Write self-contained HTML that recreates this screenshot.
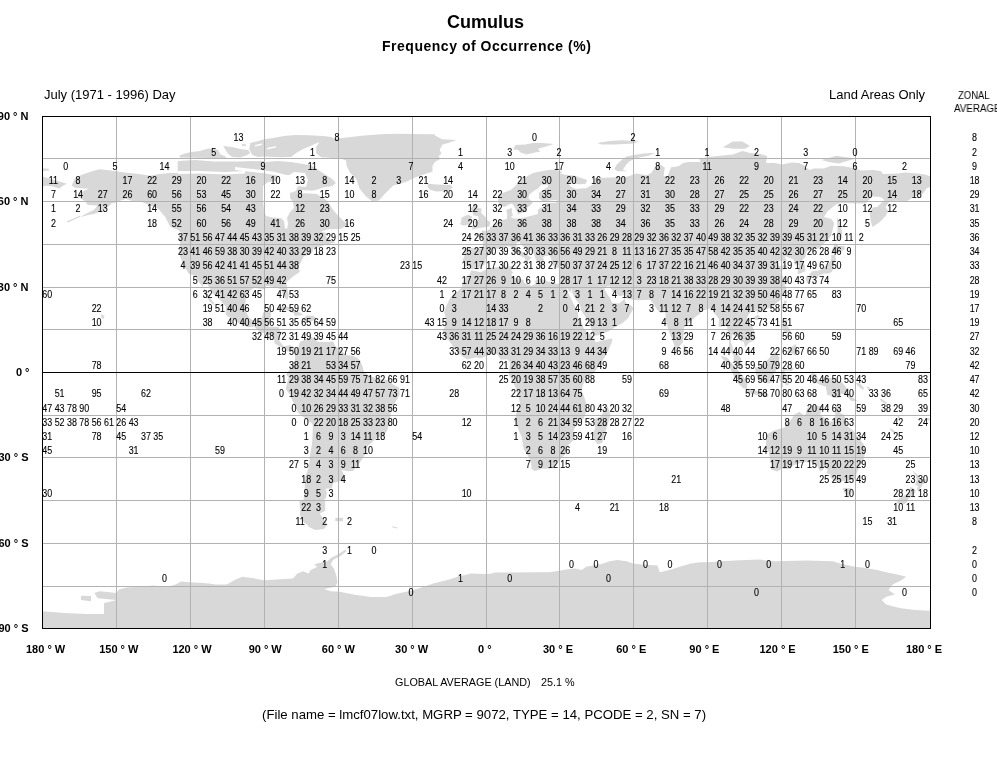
<!DOCTYPE html>
<html><head><meta charset="utf-8"><title>Cumulus - Frequency of Occurrence</title>
<style>
html,body{margin:0;padding:0;background:#fff;}
body{width:997px;height:760px;position:relative;overflow:hidden;font-family:"Liberation Sans",sans-serif;color:#000;}
.t{position:absolute;white-space:nowrap;line-height:1;will-change:transform;}
svg{position:absolute;left:0;top:0;will-change:transform;}
svg text{font-family:"Liberation Sans",sans-serif;}
</style></head><body>
<svg width="997" height="760" viewBox="0 0 997 760">
<g fill="#d8d8d8" stroke="none">
<path d="M71.6,185.4 L75.3,177.7 L83.9,174.0 L91.3,171.5 L99.2,169.2 L111.1,170.6 L120.9,172.0 L138.2,174.0 L150.5,175.7 L157.9,174.3 L170.3,172.9 L177.7,172.9 L177.7,160.9 L194.9,160.1 L214.7,161.5 L239.3,161.5 L264.0,160.9 L264.9,162.0 L278.1,161.1 L290.2,162.0 L302.2,163.8 L311.8,165.6 L319.0,170.5 L326.3,175.3 L332.3,178.9 L335.9,183.1 L332.3,186.1 L323.9,187.3 L316.6,189.7 L311.8,190.9 L326.9,200.5 L333.1,209.9 L338.0,215.6 L345.4,222.7 L348.6,224.1 L340.5,228.9 L328.1,229.2 L320.7,231.8 L326.9,232.9 L325.7,236.9 L335.5,242.6 L323.2,245.4 L313.3,248.3 L312.1,253.1 L303.5,256.8 L298.5,266.8 L299.8,271.9 L293.6,275.9 L286.2,282.4 L288.7,295.2 L287.4,300.3 L283.7,296.6 L281.3,289.5 L276.3,287.5 L266.5,285.8 L265.2,289.5 L254.1,287.8 L246.7,293.2 L245.5,300.9 L244.8,309.4 L249.2,318.0 L252.9,320.2 L261.5,319.1 L263.3,312.3 L271.4,310.8 L270.2,320.8 L268.2,326.5 L278.8,327.1 L280.5,332.2 L279.3,340.7 L283.7,346.4 L289.9,345.0 L294.8,347.5 L295.3,349.8 L292.4,350.7 L287.4,351.2 L283.7,348.7 L274.6,343.6 L273.9,337.9 L270.2,335.0 L260.3,332.2 L254.1,326.5 L248.0,327.3 L239.3,323.6 L225.8,315.1 L225.8,306.6 L219.6,299.5 L212.2,292.9 L207.3,283.8 L202.8,281.5 L203.1,286.7 L208.5,295.2 L213.9,303.2 L215.9,306.6 L209.7,301.5 L204.8,293.8 L203.6,288.1 L198.6,281.5 L196.9,279.0 L193.7,275.3 L188.5,273.6 L183.8,265.3 L180.1,256.8 L179.4,249.7 L180.1,240.6 L178.4,234.3 L182.6,234.0 L177.7,229.8 L170.3,226.9 L165.3,217.0 L157.9,208.4 L150.5,205.6 L141.9,201.9 L133.3,201.3 L125.9,199.1 L120.9,200.5 L116.0,202.5 L111.6,203.6 L106.1,208.4 L101.2,211.3 L93.8,214.1 L86.4,215.6 L80.2,217.0 L86.4,213.6 L93.8,209.9 L97.5,205.6 L87.6,205.0 L85.2,201.3 L77.8,197.1 L80.2,192.8 L88.9,188.5 L82.7,188.5 L75.3,187.7Z"/>
<path d="M179.5,155.6 L185.0,153.6 L191.1,152.0 L200.1,151.0 L207.1,148.8 L214.1,148.5 L218.1,150.0 L220.2,154.1 L226.2,157.1 L225.2,158.3 L180.0,157.6Z"/>
<path d="M223.2,146.0 L232.2,147.0 L240.2,149.0 L248.2,150.0 L250.2,153.1 L246.2,155.6 L240.2,157.6 L232.2,157.1 L228.2,154.1 L226.2,151.0Z"/>
<path d="M242.0,144.0 L246.0,144.5 L246.0,146.0 L242.0,146.0Z"/>
<path d="M250.2,143.0 L258.3,141.0 L264.0,139.3 L273.0,137.9 L283.9,136.1 L295.6,135.0 L309.2,135.2 L322.7,136.1 L331.7,137.0 L334.4,138.8 L327.2,140.2 L318.2,142.4 L309.2,146.5 L303.7,148.8 L296.5,152.8 L291.1,156.9 L282.1,157.3 L273.0,156.9 L264.0,156.4 L258.3,157.1 L252.2,155.1 L249.2,149.0Z"/>
<path d="M330.7,138.8 L338.7,138.5 L348.3,137.2 L364.4,135.6 L380.4,134.3 L396.5,133.7 L412.0,134.0 L434.9,134.2 L434.9,135.6 L442.1,139.3 L456.6,139.9 L450.5,142.3 L442.1,144.7 L439.7,150.1 L441.5,153.7 L438.5,156.1 L440.3,159.1 L434.9,162.1 L432.5,165.7 L432.5,171.7 L424.1,174.2 L414.4,177.8 L407.2,181.4 L400.0,183.8 L393.3,185.4 L385.2,193.4 L378.8,200.6 L372.4,201.4 L366.0,196.6 L359.5,188.6 L356.3,179.0 L349.9,172.5 L346.7,166.1 L345.9,160.5 L341.9,158.9 L332.3,158.1 L321.0,157.3 L316.2,153.3 L316.2,146.9 L319.4,142.0 L327.4,139.6Z"/>
<path d="M427.7,183.8 L436.1,184.4 L450.5,185.0 L452.9,187.4 L448.1,191.0 L436.1,191.6 L430.1,189.8 L427.7,186.8Z"/>
<path d="M42.0,168.3 L48.5,168.8 L49.0,170.5 L42.0,171.0Z"/>
<path d="M80.2,217.0 L75.3,219.0 L67.9,222.4 L66.7,221.5 L75.3,217.8 L80.2,215.6Z"/>
<path d="M295.3,349.5 L298.5,346.4 L299.8,342.1 L308.4,337.9 L310.9,336.7 L313.3,337.9 L318.3,342.1 L328.1,342.1 L333.1,341.6 L335.5,346.4 L340.5,349.2 L345.4,354.9 L352.8,355.8 L357.7,358.3 L360.2,360.6 L362.7,366.9 L363.9,372.0 L367.6,374.8 L377.5,379.1 L387.3,380.0 L393.5,384.8 L399.2,387.6 L399.7,394.8 L394.7,403.3 L391.0,409.0 L389.8,421.8 L387.3,430.3 L383.6,436.0 L377.5,437.4 L367.6,446.0 L366.1,453.1 L361.4,460.2 L356.5,467.3 L352.8,471.0 L347.9,471.3 L341.7,470.1 L344.2,475.8 L344.2,480.1 L333.1,482.9 L331.8,488.6 L325.7,488.6 L326.9,492.9 L325.7,498.6 L319.5,502.8 L323.2,507.1 L318.3,514.2 L315.8,518.5 L317.0,521.3 L324.4,528.4 L319.5,529.3 L313.3,529.0 L308.4,525.6 L302.2,521.3 L299.8,514.2 L301.0,505.7 L303.5,500.0 L304.7,491.5 L304.7,482.9 L305.2,477.2 L309.1,465.9 L309.6,457.3 L312.1,443.1 L312.8,428.9 L312.6,424.1 L309.6,421.8 L298.5,413.2 L294.8,406.1 L289.9,394.8 L285.7,389.1 L287.4,382.0 L288.7,377.7 L286.2,374.8 L288.7,370.6 L291.1,367.7 L292.4,364.9 L294.8,360.6 L295.1,353.5 L293.8,351.2Z"/>
<path d="M276.3,309.7 L278.8,307.1 L286.2,306.0 L294.8,309.4 L303.0,314.5 L299.8,315.4 L294.8,315.7 L293.6,313.1 L286.2,310.0 L278.8,310.0Z"/>
<path d="M302.2,319.7 L306.4,315.4 L313.3,315.7 L317.3,319.1 L309.6,321.9 L302.7,320.8Z"/>
<path d="M472.2,269.6 L470.2,267.3 L467.5,266.2 L464.0,266.8 L464.3,261.9 L462.6,261.1 L464.5,255.4 L464.0,250.3 L463.1,249.7 L466.3,247.7 L473.7,248.3 L481.6,248.6 L483.0,244.9 L483.0,240.6 L480.6,237.7 L474.9,235.8 L474.4,234.0 L478.6,233.2 L482.3,233.5 L481.6,230.6 L486.5,231.2 L489.7,229.2 L490.2,226.9 L494.6,225.5 L497.1,222.7 L498.3,220.4 L503.3,219.8 L507.0,219.0 L507.2,214.1 L506.2,209.9 L511.9,207.9 L511.9,212.1 L512.9,215.6 L510.7,217.0 L513.1,218.4 L520.5,218.4 L530.4,216.1 L537.8,214.1 L537.8,209.9 L541.5,207.6 L545.2,208.4 L545.2,203.3 L555.1,202.8 L560.0,201.3 L555.1,199.9 L542.7,201.3 L539.0,198.5 L539.0,192.8 L547.7,187.1 L548.4,184.8 L541.5,184.8 L537.8,188.5 L532.9,191.4 L529.2,194.8 L528.4,198.5 L531.6,201.3 L532.9,202.8 L526.7,208.4 L525.5,212.1 L521.8,212.7 L518.1,214.4 L516.8,211.3 L513.6,205.6 L511.9,203.6 L509.4,204.2 L504.5,207.0 L499.6,205.6 L498.3,201.3 L498.3,195.6 L503.3,192.8 L510.7,190.0 L515.6,185.7 L520.5,180.0 L525.5,177.2 L532.9,172.9 L542.7,170.9 L550.1,169.8 L556.3,170.0 L562.5,172.0 L560.0,173.7 L567.4,174.9 L574.8,175.7 L587.1,180.0 L585.9,183.7 L579.7,184.3 L572.3,183.4 L567.4,182.3 L571.1,187.1 L576.0,189.1 L579.7,188.5 L585.9,188.2 L594.5,183.7 L594.5,178.0 L599.5,178.0 L616.7,177.2 L621.7,177.2 L629.1,176.3 L634.0,174.3 L636.5,173.5 L646.3,175.2 L651.3,172.9 L656.2,164.9 L661.1,164.9 L664.8,167.8 L663.6,175.7 L667.3,177.2 L671.0,167.2 L678.4,166.3 L683.3,162.9 L688.3,162.1 L700.6,162.1 L699.4,158.7 L708.0,157.0 L720.3,155.8 L732.7,154.4 L742.5,151.0 L749.9,153.0 L759.8,153.8 L767.2,156.1 L766.0,162.9 L774.6,162.9 L782.0,164.4 L791.9,162.4 L799.3,162.9 L804.2,165.5 L809.1,170.0 L814.1,168.6 L823.9,168.6 L831.3,165.8 L843.7,166.3 L856.0,168.6 L860.9,170.6 L873.3,170.0 L880.7,170.9 L883.1,174.0 L897.9,173.5 L905.3,172.6 L917.7,173.5 L925.1,174.6 L930.0,176.3 L930.0,187.1 L926.3,188.5 L922.6,194.2 L915.2,196.2 L906.6,201.3 L895.5,200.8 L889.3,201.9 L885.6,207.0 L888.1,211.3 L885.6,216.1 L880.7,221.2 L877.0,224.1 L872.5,226.9 L870.8,221.2 L869.6,212.7 L872.8,207.6 L877.0,207.0 L884.4,199.9 L880.7,197.1 L872.0,196.5 L865.9,203.3 L858.5,203.6 L851.1,203.3 L841.2,203.0 L836.3,204.2 L827.6,211.3 L823.9,217.0 L831.3,219.0 L834.3,223.2 L832.6,229.8 L831.3,235.5 L826.4,241.2 L819.0,248.3 L811.6,249.7 L806.7,251.1 L805.4,256.8 L801.7,261.1 L804.9,265.3 L805.4,271.0 L800.5,273.6 L797.5,273.9 L798.0,269.6 L798.8,265.3 L794.3,263.9 L793.6,259.4 L786.9,256.8 L784.5,255.9 L786.9,261.1 L784.5,261.6 L777.1,260.5 L776.3,262.8 L779.5,266.2 L783.7,264.5 L788.2,266.2 L783.2,269.6 L780.3,272.4 L783.2,277.0 L786.4,281.5 L784.5,285.2 L786.9,287.2 L785.7,290.9 L782.0,296.3 L780.8,300.0 L777.1,302.3 L773.4,306.6 L767.2,308.6 L762.3,310.3 L758.6,311.4 L757.3,314.3 L756.6,310.8 L752.4,310.6 L749.2,313.4 L746.7,318.5 L748.7,322.2 L752.4,326.5 L754.9,332.7 L755.4,338.4 L752.4,341.3 L749.2,342.4 L745.0,347.5 L744.5,345.0 L743.8,342.1 L740.1,340.7 L737.6,337.3 L734.6,335.9 L732.7,333.9 L730.7,342.1 L732.2,345.8 L733.4,350.7 L735.9,352.4 L738.1,354.4 L741.1,358.3 L741.3,364.9 L743.0,368.0 L741.3,368.3 L737.6,365.7 L735.1,363.5 L733.4,359.8 L733.7,355.8 L728.5,349.2 L729.0,343.6 L729.0,336.4 L727.2,327.9 L726.7,325.1 L724.0,325.1 L721.1,327.1 L718.4,326.5 L719.1,319.4 L716.6,315.7 L713.7,313.1 L712.9,309.4 L709.2,308.6 L705.5,310.0 L700.6,310.6 L700.1,313.7 L695.7,316.8 L688.3,323.6 L684.1,327.3 L683.8,333.6 L682.8,342.7 L678.9,346.7 L677.2,349.0 L674.7,346.7 L672.2,339.3 L670.3,335.0 L667.3,326.5 L665.6,318.0 L665.3,312.3 L659.9,312.8 L656.2,308.6 L654.5,304.9 L651.8,301.7 L650.0,299.8 L643.9,300.0 L637.7,300.3 L631.0,299.5 L627.3,298.6 L625.4,294.9 L619.2,296.3 L613.0,292.6 L609.6,286.1 L605.6,286.7 L604.4,288.1 L605.4,290.9 L608.1,295.2 L609.8,297.5 L611.8,302.3 L613.3,303.2 L615.5,303.2 L619.2,303.4 L624.1,299.2 L625.1,296.9 L625.1,301.2 L627.1,304.3 L630.8,305.2 L633.5,308.6 L630.3,314.0 L628.3,318.0 L624.9,321.1 L621.7,323.6 L614.8,327.6 L606.9,332.2 L597.0,335.6 L593.3,335.9 L591.8,330.2 L590.1,325.1 L585.4,316.5 L581.2,310.8 L579.7,304.6 L574.8,298.0 L572.1,292.4 L571.3,288.1 L570.4,292.9 L566.4,287.0 L560.0,284.4 L560.0,267.9 L555.1,267.6 L553.3,265.3 L551.4,259.9 L550.6,257.9 L550.1,255.4 L545.2,255.9 L542.7,257.4 L544.0,259.6 L542.2,265.3 L539.5,267.3 L538.3,263.1 L535.8,259.4 L533.9,254.0 L532.9,252.0 L525.5,248.3 L520.5,244.0 L519.5,242.0 L516.3,243.1 L516.8,246.8 L520.5,251.1 L525.5,254.0 L531.6,257.7 L527.9,261.1 L526.7,263.9 L524.5,263.9 L525.5,259.6 L524.2,257.7 L520.5,255.9 L516.8,254.0 L513.1,251.1 L510.7,246.8 L507.0,246.0 L503.3,248.0 L498.3,248.6 L493.9,249.1 L493.4,252.5 L488.0,255.4 L485.3,259.6 L486.0,261.9 L484.0,265.0 L480.6,267.6 L474.9,267.6Z"/>
<path d="M42.0,176.3 L51.9,179.4 L59.3,181.4 L66.7,183.7 L63.0,185.7 L59.3,188.5 L51.9,186.3 L45.7,185.7 L42.0,187.1Z"/>
<path d="M471.4,270.2 L481.1,272.2 L488.5,268.2 L494.6,267.3 L505.7,267.0 L510.7,265.9 L513.1,266.8 L511.2,271.0 L513.4,271.9 L511.2,274.7 L514.4,277.8 L519.3,278.7 L523.7,280.1 L524.2,283.0 L531.6,285.8 L535.3,284.1 L535.3,280.4 L539.0,278.4 L542.7,279.3 L547.7,281.5 L557.5,284.1 L562.5,282.1 L565.7,283.0 L566.4,287.0 L568.6,293.8 L573.6,304.0 L577.8,312.3 L578.3,318.8 L581.0,320.8 L583.9,328.8 L587.6,332.5 L592.8,336.7 L595.8,342.4 L601.9,340.4 L612.3,338.4 L611.8,342.4 L608.8,349.2 L604.4,357.8 L599.5,365.7 L593.3,373.4 L588.4,377.1 L585.2,380.0 L582.7,385.4 L581.7,390.5 L583.4,394.8 L585.9,401.9 L585.9,413.2 L583.4,418.9 L577.3,422.6 L573.1,431.7 L573.6,440.3 L567.2,445.7 L566.2,453.4 L562.5,457.0 L555.1,465.6 L549.4,468.7 L541.5,468.7 L535.3,471.0 L531.6,469.3 L531.1,463.0 L528.7,457.3 L523.5,448.8 L521.8,436.9 L519.1,431.2 L515.1,420.4 L516.8,411.3 L520.0,403.3 L518.6,397.0 L516.3,389.1 L513.1,382.5 L508.7,374.8 L509.4,369.2 L510.2,362.0 L507.0,359.2 L500.8,359.8 L497.1,354.1 L490.9,354.1 L483.5,357.2 L479.8,358.3 L476.1,357.2 L467.5,359.5 L463.3,356.9 L457.6,352.4 L453.4,347.8 L452.2,345.0 L449.0,340.7 L444.6,336.7 L442.8,330.2 L445.3,326.2 L446.0,318.0 L444.1,312.3 L446.5,305.2 L450.2,298.0 L453.4,293.5 L457.6,291.5 L461.8,287.5 L462.3,283.8 L465.0,277.6 L469.2,275.3Z"/>
<path d="M471.9,229.8 L478.6,228.1 L489.5,226.4 L490.2,222.1 L486.7,219.8 L485.5,217.0 L482.3,214.1 L481.1,212.7 L481.6,208.4 L477.4,207.9 L478.6,205.3 L473.7,205.3 L470.7,208.4 L472.2,211.9 L473.7,215.6 L478.1,216.1 L478.6,219.8 L474.4,221.8 L476.1,225.2 L473.2,224.9Z"/>
<path d="M471.2,223.5 L471.2,218.4 L472.2,216.7 L468.0,214.7 L465.0,216.1 L461.3,217.8 L461.3,221.2 L460.1,224.1 L462.6,225.5 L466.3,225.2Z"/>
<path d="M682.8,354.9 L683.8,344.1 L687.8,350.7 L686.8,354.4 L684.8,355.2Z"/>
<path d="M808.9,274.4 L812.8,271.0 L819.0,270.5 L821.5,269.0 L823.9,266.5 L827.6,265.3 L831.3,259.6 L831.3,255.1 L835.0,254.8 L836.0,259.6 L833.8,263.9 L833.1,269.6 L831.8,271.9 L828.1,273.6 L823.9,273.6 L819.5,275.6 L812.8,275.9 L809.1,275.6Z"/>
<path d="M831.3,254.0 L832.3,248.8 L835.3,242.9 L838.7,246.0 L844.4,246.0 L844.9,249.1 L839.5,252.5 L833.8,253.1Z"/>
<path d="M805.9,276.4 L811.1,275.9 L810.4,282.4 L807.2,283.3 L805.7,279.6Z"/>
<path d="M812.8,277.6 L818.3,274.7 L818.0,277.3 L814.8,278.7Z"/>
<path d="M836.3,241.2 L837.5,231.2 L836.8,217.8 L839.5,221.2 L842.4,232.6 L840.0,240.3Z"/>
<path d="M782.5,308.0 L784.5,300.3 L786.9,300.9 L784.0,309.7Z"/>
<path d="M753.9,317.4 L757.3,314.8 L759.8,316.2 L757.8,320.2 L754.9,319.7Z"/>
<path d="M782.0,326.5 L783.2,319.4 L787.4,319.4 L786.9,325.1 L791.9,333.6 L785.7,332.7 L783.5,331.3Z"/>
<path d="M786.9,352.1 L790.6,347.8 L795.6,344.1 L798.0,352.1 L795.6,355.5 L791.9,353.5Z"/>
<path d="M754.9,367.7 L756.1,374.8 L758.1,380.5 L768.4,383.4 L773.4,382.0 L772.1,376.3 L776.1,370.6 L777.1,369.2 L779.5,357.8 L775.1,352.1 L772.1,354.4 L767.9,359.5 L761.0,365.5 L757.3,367.2Z"/>
<path d="M721.1,356.1 L726.5,357.2 L733.7,364.9 L741.3,374.3 L743.8,377.4 L747.5,380.5 L747.0,388.5 L743.8,388.8 L738.3,383.4 L735.1,378.5 L732.7,373.4 L729.5,367.2 L726.0,362.0 L721.6,357.8Z"/>
<path d="M745.5,391.3 L747.7,388.8 L753.1,389.6 L758.3,391.6 L763.7,391.6 L768.4,393.9 L768.2,396.7 L759.8,395.3 L752.4,394.2 L748.5,393.0Z"/>
<path d="M780.5,387.6 L780.8,382.0 L779.0,379.7 L781.5,371.4 L784.0,368.3 L788.2,369.2 L793.1,368.3 L794.8,367.7 L791.9,370.9 L784.5,370.6 L785.7,374.8 L790.1,374.6 L786.4,377.1 L788.9,384.8 L785.7,385.4 L784.5,380.0 L782.7,380.2 L783.0,387.6Z"/>
<path d="M809.1,375.7 L812.8,373.1 L816.5,374.6 L819.0,381.4 L826.4,376.6 L833.8,379.4 L842.4,382.8 L846.1,387.6 L849.8,389.4 L848.6,391.9 L851.8,396.5 L857.2,401.0 L851.1,401.0 L846.1,395.0 L841.2,393.6 L839.5,397.6 L833.8,397.9 L828.9,394.8 L827.6,395.9 L825.7,386.8 L819.5,384.5 L816.5,383.1 L813.6,383.7 L811.6,380.2 L815.3,378.5 L811.6,378.0Z"/>
<path d="M766.0,434.6 L767.7,434.0 L773.9,430.6 L784.5,427.5 L788.2,420.4 L790.6,420.4 L794.3,414.7 L799.3,411.8 L803.0,414.7 L805.7,414.4 L806.7,409.0 L809.1,406.7 L812.8,404.7 L815.3,405.6 L820.2,406.1 L823.4,406.7 L821.0,410.4 L820.2,414.7 L825.2,418.4 L829.6,421.5 L833.3,421.5 L835.3,414.7 L835.0,408.1 L837.5,402.4 L840.0,408.4 L840.0,413.2 L844.4,414.7 L846.1,421.8 L846.9,426.0 L853.0,430.3 L857.2,436.0 L863.9,444.5 L864.9,453.1 L863.4,461.6 L859.7,465.9 L856.5,473.5 L856.0,478.7 L849.8,480.1 L846.9,483.2 L843.2,480.7 L840.0,482.4 L833.8,480.4 L830.6,478.1 L830.1,474.4 L826.4,473.3 L827.6,470.1 L825.2,467.3 L821.5,471.3 L819.5,470.4 L817.0,464.7 L810.4,461.6 L804.2,462.2 L796.8,463.9 L791.9,465.9 L790.9,468.7 L782.0,468.7 L777.1,471.6 L771.4,469.6 L770.4,467.6 L771.4,464.7 L769.7,457.3 L768.7,451.6 L766.0,447.4 L766.0,441.7 L766.2,436.6Z"/>
<path d="M842.7,487.8 L851.8,488.3 L851.8,492.0 L848.6,496.0 L846.1,495.7 L844.2,492.0Z"/>
<path d="M912.0,469.8 L916.4,473.8 L919.6,476.7 L920.1,479.0 L926.3,479.2 L924.8,483.5 L922.6,484.4 L922.1,486.3 L918.4,490.3 L916.7,489.5 L918.2,486.3 L915.2,484.4 L916.7,480.1 L915.7,475.8Z"/>
<path d="M912.0,487.2 L915.9,490.3 L914.0,494.3 L912.2,496.6 L908.3,498.6 L906.8,502.6 L902.9,504.8 L896.7,503.1 L896.7,500.9 L901.1,497.2 L906.6,494.3 L909.0,490.6 L910.3,487.2Z"/>
<path d="M607.6,406.1 L610.6,415.5 L608.8,420.4 L605.9,430.3 L602.2,442.8 L597.5,444.5 L593.8,439.1 L592.8,434.0 L595.3,427.5 L594.5,420.9 L595.8,418.1 L600.2,416.9 L604.4,410.4Z"/>
<path d="M513.1,149.3 L515.6,145.0 L525.5,144.4 L532.9,143.0 L542.7,143.0 L553.8,143.9 L545.2,146.7 L537.8,148.7 L540.3,151.6 L532.9,153.0 L526.7,154.4 L520.5,152.4 L518.1,150.1Z"/>
<path d="M597.0,143.0 L609.3,141.0 L621.7,140.2 L638.9,141.6 L634.0,143.6 L614.3,144.4 L601.9,144.4Z"/>
<path d="M614.3,169.2 L616.7,164.4 L621.7,160.1 L626.6,156.4 L634.0,155.0 L643.9,153.5 L655.0,153.0 L648.8,155.8 L636.5,158.1 L629.1,161.5 L625.4,165.8 L622.9,170.0 L627.8,171.2 L618.0,171.2Z"/>
<path d="M722.8,147.3 L730.2,143.0 L732.7,141.6 L742.5,141.6 L749.9,145.9 L745.0,148.7 L732.7,148.7Z"/>
<path d="M821.5,160.1 L831.3,157.2 L836.3,155.8 L846.1,157.2 L856.0,158.4 L838.7,163.5 L828.9,162.1Z"/>
<path d="M42.0,611.3 L64.3,613.0 L86.5,614.1 L104.0,614.0 L104.0,603.0 L108.8,601.9 L116.6,600.1 L97.7,598.3 L94.3,593.0 L99.9,591.2 L116.6,593.0 L118.8,589.4 L126.6,587.4 L140.0,586.8 L153.3,585.6 L166.7,587.2 L175.6,584.5 L181.2,581.4 L189.0,582.3 L200.1,582.8 L209.0,583.4 L215.7,584.5 L226.8,584.5 L235.7,579.6 L242.4,576.7 L253.5,578.3 L264.0,580.2 L292.9,578.4 L297.4,573.5 L303.0,571.3 L308.5,573.5 L310.8,570.1 L317.4,566.8 L314.1,564.6 L319.7,562.8 L327.5,561.2 L330.8,557.9 L339.7,553.4 L345.3,549.4 L346.4,551.2 L340.8,555.7 L333.0,560.1 L330.8,564.6 L334.1,569.0 L336.4,575.7 L337.5,582.4 L335.3,586.8 L324.1,589.1 L330.8,591.3 L339.6,591.7 L353.1,594.6 L370.9,596.9 L386.5,596.9 L397.6,593.5 L408.7,591.3 L419.9,588.0 L433.2,583.5 L446.6,580.2 L457.7,576.8 L471.1,573.5 L486.0,574.0 L490.5,573.8 L494.9,572.5 L537.2,572.3 L548.3,572.3 L559.5,570.7 L566.2,569.4 L575.1,568.5 L581.7,570.1 L586.2,566.7 L601.8,564.0 L609.6,561.2 L617.4,560.0 L626.3,561.2 L633.0,563.4 L641.9,564.5 L657.5,565.6 L659.7,572.3 L664.1,571.2 L673.0,568.9 L679.7,566.7 L690.9,563.4 L699.8,562.3 L708.0,562.3 L721.4,561.2 L734.7,560.5 L759.2,559.6 L774.8,561.2 L806.0,560.5 L832.7,561.2 L841.6,564.0 L855.0,566.7 L863.9,567.8 L877.2,570.1 L886.1,572.3 L897.3,574.5 L906.2,576.7 L901.7,580.1 L892.8,584.5 L888.4,590.1 L895.0,594.6 L886.1,596.8 L881.7,600.1 L886.1,604.6 L899.5,607.9 L915.1,610.1 L930.0,610.8 L930.0,628.0 L42.0,628.0Z"/>
<path d="M299.6,500.0 L325.2,500.0 L325.2,511.1 L319.7,513.4 L327.5,524.5 L324.1,528.9 L315.2,530.1 L308.5,526.7 L305.2,520.0 L301.9,513.4 L299.6,504.5Z"/>
<path d="M335.3,517.8 L343.0,517.8 L343.0,521.2 L335.3,521.2Z"/>
<path d="M392.0,526.3 L397.6,527.5 L397.6,528.5 L392.0,527.3Z"/>
<path d="M81.0,595.7 L91.0,596.0 L91.0,601.2 L81.0,600.0Z"/>
<path d="M101.0,314.0 L104.6,316.0 L103.5,319.0 L101.5,318.0Z"/>
<path d="M855.0,382.5 L860.0,383.5 L864.0,388.0 L863.0,390.0 L858.0,386.0Z"/>
<path d="M866.5,386.5 L869.0,387.0 L870.5,390.0 L868.0,389.5Z"/>
<path d="M879.5,398.5 L882.0,399.0 L887.0,403.0 L886.0,404.5 L881.0,401.0Z"/>
<path d="M897.0,415.0 L899.0,415.5 L900.0,418.5 L898.0,418.0Z"/>
<path d="M889.5,428.5 L892.0,429.0 L896.0,432.5 L895.0,434.0 L891.0,431.0Z"/>
<path d="M926.5,418.0 L929.5,418.0 L929.5,420.5 L927.0,420.5Z"/>
</g>
<g fill="#fff" stroke="none">
<path d="M255.0,145.0 L262.0,143.5 L262.0,145.0 L255.0,146.5Z"/>
<path d="M267.0,148.0 L276.0,146.0 L276.0,147.5 L267.0,149.5Z"/>
<path d="M263.0,186.0 L263.0,200.0 L264.0,210.0 L266.0,216.0 L273.0,217.5 L281.0,218.0 L284.0,221.0 L285.0,228.0 L287.0,229.0 L288.0,224.0 L287.0,218.0 L290.0,212.0 L294.0,208.0 L293.0,202.0 L290.0,198.0 L290.0,193.0 L296.0,191.0 L298.0,186.0 L296.0,181.0 L294.0,175.0 L280.0,175.0 L276.0,181.0 L268.0,182.0Z"/>
<path d="M288.0,176.0 L294.0,172.0 L305.0,173.0 L308.0,180.0 L306.0,187.0 L296.0,186.0 L289.0,184.0Z"/>
<path d="M178.0,171.0 L200.0,171.0 L225.0,172.0 L245.0,171.0 L245.0,173.5 L225.0,174.5 L200.0,173.5 L178.0,174.0Z"/>
<path d="M235.0,167.0 L248.0,168.5 L262.0,170.0 L275.0,172.0 L290.0,176.0 L290.0,178.5 L275.0,175.0 L262.0,173.0 L248.0,171.5 L235.0,170.0Z"/>
<path d="M300.0,190.0 L318.0,191.0 L330.0,193.0 L330.0,195.0 L318.0,194.0 L300.0,193.0Z"/>
</g>
<path d="M116.5,116V628 M190.5,116V628 M264.5,116V628 M338.5,116V628 M412.5,116V628 M486.5,116V628 M559.5,116V628 M633.5,116V628 M707.5,116V628 M781.5,116V628 M855.5,116V628 M42,158.5H930 M42,201.5H930 M42,244.5H930 M42,287.5H930 M42,329.5H930 M42,415.5H930 M42,457.5H930 M42,500.5H930 M42,543.5H930 M42,586.5H930" stroke="#b2b2b2" stroke-width="1" fill="none" shape-rendering="crispEdges"/>
<path d="M42,372.5H930" stroke="#000" stroke-width="1" shape-rendering="crispEdges"/>
<rect x="42.5" y="116.5" width="888" height="512" fill="none" stroke="#000" stroke-width="1" shape-rendering="crispEdges"/>
<g font-size="10.5" text-anchor="middle" fill="#000" stroke="#000" stroke-width="0.12" transform="scale(0.85,1)">
<text x="280.51" y="141.3">13</text>
<text x="396.59" y="141.3">8</text>
<text x="628.75" y="141.3">0</text>
<text x="744.82" y="141.3">2</text>
<text x="251.49" y="155.6">5</text>
<text x="367.57" y="155.6">1</text>
<text x="541.69" y="155.6">1</text>
<text x="599.73" y="155.6">3</text>
<text x="657.76" y="155.6">2</text>
<text x="773.84" y="155.6">1</text>
<text x="831.88" y="155.6">1</text>
<text x="889.92" y="155.6">2</text>
<text x="947.96" y="155.6">3</text>
<text x="1006.00" y="155.6">0</text>
<text x="77.37" y="169.8">0</text>
<text x="135.41" y="169.8">5</text>
<text x="193.45" y="169.8">14</text>
<text x="309.53" y="169.8">9</text>
<text x="367.57" y="169.8">11</text>
<text x="483.65" y="169.8">7</text>
<text x="541.69" y="169.8">4</text>
<text x="599.73" y="169.8">10</text>
<text x="657.76" y="169.8">17</text>
<text x="715.80" y="169.8">4</text>
<text x="773.84" y="169.8">8</text>
<text x="831.88" y="169.8">11</text>
<text x="889.92" y="169.8">9</text>
<text x="947.96" y="169.8">7</text>
<text x="1006.00" y="169.8">6</text>
<text x="1064.04" y="169.8">2</text>
<text x="62.86" y="184.0">11</text>
<text x="91.88" y="184.0">8</text>
<text x="149.92" y="184.0">17</text>
<text x="178.94" y="184.0">22</text>
<text x="207.96" y="184.0">29</text>
<text x="236.98" y="184.0">20</text>
<text x="266.00" y="184.0">22</text>
<text x="295.02" y="184.0">16</text>
<text x="324.04" y="184.0">10</text>
<text x="353.06" y="184.0">13</text>
<text x="382.08" y="184.0">8</text>
<text x="411.10" y="184.0">14</text>
<text x="440.12" y="184.0">2</text>
<text x="469.14" y="184.0">3</text>
<text x="498.16" y="184.0">21</text>
<text x="527.18" y="184.0">14</text>
<text x="614.24" y="184.0">21</text>
<text x="643.25" y="184.0">30</text>
<text x="672.27" y="184.0">20</text>
<text x="701.29" y="184.0">16</text>
<text x="730.31" y="184.0">20</text>
<text x="759.33" y="184.0">21</text>
<text x="788.35" y="184.0">22</text>
<text x="817.37" y="184.0">23</text>
<text x="846.39" y="184.0">26</text>
<text x="875.41" y="184.0">22</text>
<text x="904.43" y="184.0">20</text>
<text x="933.45" y="184.0">21</text>
<text x="962.47" y="184.0">23</text>
<text x="991.49" y="184.0">14</text>
<text x="1020.51" y="184.0">20</text>
<text x="1049.53" y="184.0">15</text>
<text x="1078.55" y="184.0">13</text>
<text x="62.86" y="198.2">7</text>
<text x="91.88" y="198.2">14</text>
<text x="120.90" y="198.2">27</text>
<text x="149.92" y="198.2">26</text>
<text x="178.94" y="198.2">60</text>
<text x="207.96" y="198.2">56</text>
<text x="236.98" y="198.2">53</text>
<text x="266.00" y="198.2">45</text>
<text x="295.02" y="198.2">30</text>
<text x="324.04" y="198.2">22</text>
<text x="353.06" y="198.2">8</text>
<text x="382.08" y="198.2">15</text>
<text x="411.10" y="198.2">10</text>
<text x="440.12" y="198.2">8</text>
<text x="498.16" y="198.2">16</text>
<text x="527.18" y="198.2">20</text>
<text x="556.20" y="198.2">14</text>
<text x="585.22" y="198.2">22</text>
<text x="614.24" y="198.2">30</text>
<text x="643.25" y="198.2">35</text>
<text x="672.27" y="198.2">30</text>
<text x="701.29" y="198.2">34</text>
<text x="730.31" y="198.2">27</text>
<text x="759.33" y="198.2">31</text>
<text x="788.35" y="198.2">30</text>
<text x="817.37" y="198.2">28</text>
<text x="846.39" y="198.2">27</text>
<text x="875.41" y="198.2">25</text>
<text x="904.43" y="198.2">25</text>
<text x="933.45" y="198.2">26</text>
<text x="962.47" y="198.2">27</text>
<text x="991.49" y="198.2">25</text>
<text x="1020.51" y="198.2">20</text>
<text x="1049.53" y="198.2">14</text>
<text x="1078.55" y="198.2">18</text>
<text x="62.86" y="212.4">1</text>
<text x="91.88" y="212.4">2</text>
<text x="120.90" y="212.4">13</text>
<text x="178.94" y="212.4">14</text>
<text x="207.96" y="212.4">55</text>
<text x="236.98" y="212.4">56</text>
<text x="266.00" y="212.4">54</text>
<text x="295.02" y="212.4">43</text>
<text x="353.06" y="212.4">12</text>
<text x="382.08" y="212.4">23</text>
<text x="556.20" y="212.4">12</text>
<text x="585.22" y="212.4">32</text>
<text x="614.24" y="212.4">33</text>
<text x="643.25" y="212.4">31</text>
<text x="672.27" y="212.4">34</text>
<text x="701.29" y="212.4">33</text>
<text x="730.31" y="212.4">29</text>
<text x="759.33" y="212.4">32</text>
<text x="788.35" y="212.4">35</text>
<text x="817.37" y="212.4">33</text>
<text x="846.39" y="212.4">29</text>
<text x="875.41" y="212.4">22</text>
<text x="904.43" y="212.4">23</text>
<text x="933.45" y="212.4">24</text>
<text x="962.47" y="212.4">22</text>
<text x="991.49" y="212.4">10</text>
<text x="1020.51" y="212.4">12</text>
<text x="1049.53" y="212.4">12</text>
<text x="62.86" y="226.7">2</text>
<text x="178.94" y="226.7">18</text>
<text x="207.96" y="226.7">52</text>
<text x="236.98" y="226.7">60</text>
<text x="266.00" y="226.7">56</text>
<text x="295.02" y="226.7">49</text>
<text x="324.04" y="226.7">41</text>
<text x="353.06" y="226.7">26</text>
<text x="382.08" y="226.7">30</text>
<text x="411.10" y="226.7">16</text>
<text x="527.18" y="226.7">24</text>
<text x="556.20" y="226.7">20</text>
<text x="585.22" y="226.7">26</text>
<text x="614.24" y="226.7">36</text>
<text x="643.25" y="226.7">38</text>
<text x="672.27" y="226.7">38</text>
<text x="701.29" y="226.7">38</text>
<text x="730.31" y="226.7">34</text>
<text x="759.33" y="226.7">36</text>
<text x="788.35" y="226.7">35</text>
<text x="817.37" y="226.7">33</text>
<text x="846.39" y="226.7">26</text>
<text x="875.41" y="226.7">24</text>
<text x="904.43" y="226.7">28</text>
<text x="933.45" y="226.7">29</text>
<text x="962.47" y="226.7">20</text>
<text x="991.49" y="226.7">12</text>
<text x="1020.51" y="226.7">5</text>
<text x="215.22" y="240.9">37</text>
<text x="229.73" y="240.9">51</text>
<text x="244.24" y="240.9">56</text>
<text x="258.75" y="240.9">47</text>
<text x="273.25" y="240.9">44</text>
<text x="287.76" y="240.9">45</text>
<text x="302.27" y="240.9">43</text>
<text x="316.78" y="240.9">35</text>
<text x="331.29" y="240.9">31</text>
<text x="345.80" y="240.9">38</text>
<text x="360.31" y="240.9">39</text>
<text x="374.82" y="240.9">32</text>
<text x="389.33" y="240.9">29</text>
<text x="403.84" y="240.9">15</text>
<text x="418.35" y="240.9">25</text>
<text x="548.94" y="240.9">24</text>
<text x="563.45" y="240.9">26</text>
<text x="577.96" y="240.9">33</text>
<text x="592.47" y="240.9">37</text>
<text x="606.98" y="240.9">36</text>
<text x="621.49" y="240.9">41</text>
<text x="636.00" y="240.9">36</text>
<text x="650.51" y="240.9">33</text>
<text x="665.02" y="240.9">36</text>
<text x="679.53" y="240.9">31</text>
<text x="694.04" y="240.9">33</text>
<text x="708.55" y="240.9">26</text>
<text x="723.06" y="240.9">29</text>
<text x="737.57" y="240.9">28</text>
<text x="752.08" y="240.9">29</text>
<text x="766.59" y="240.9">32</text>
<text x="781.10" y="240.9">36</text>
<text x="795.61" y="240.9">32</text>
<text x="810.12" y="240.9">37</text>
<text x="824.63" y="240.9">40</text>
<text x="839.14" y="240.9">49</text>
<text x="853.65" y="240.9">38</text>
<text x="868.16" y="240.9">32</text>
<text x="882.67" y="240.9">35</text>
<text x="897.18" y="240.9">32</text>
<text x="911.69" y="240.9">39</text>
<text x="926.20" y="240.9">39</text>
<text x="940.71" y="240.9">45</text>
<text x="955.22" y="240.9">31</text>
<text x="969.73" y="240.9">21</text>
<text x="984.24" y="240.9">10</text>
<text x="998.75" y="240.9">11</text>
<text x="1013.25" y="240.9">2</text>
<text x="215.22" y="255.1">23</text>
<text x="229.73" y="255.1">41</text>
<text x="244.24" y="255.1">46</text>
<text x="258.75" y="255.1">59</text>
<text x="273.25" y="255.1">38</text>
<text x="287.76" y="255.1">30</text>
<text x="302.27" y="255.1">39</text>
<text x="316.78" y="255.1">42</text>
<text x="331.29" y="255.1">40</text>
<text x="345.80" y="255.1">33</text>
<text x="360.31" y="255.1">29</text>
<text x="374.82" y="255.1">18</text>
<text x="389.33" y="255.1">23</text>
<text x="548.94" y="255.1">25</text>
<text x="563.45" y="255.1">27</text>
<text x="577.96" y="255.1">30</text>
<text x="592.47" y="255.1">39</text>
<text x="606.98" y="255.1">36</text>
<text x="621.49" y="255.1">30</text>
<text x="636.00" y="255.1">33</text>
<text x="650.51" y="255.1">36</text>
<text x="665.02" y="255.1">56</text>
<text x="679.53" y="255.1">49</text>
<text x="694.04" y="255.1">29</text>
<text x="708.55" y="255.1">21</text>
<text x="723.06" y="255.1">8</text>
<text x="737.57" y="255.1">11</text>
<text x="752.08" y="255.1">13</text>
<text x="766.59" y="255.1">16</text>
<text x="781.10" y="255.1">27</text>
<text x="795.61" y="255.1">35</text>
<text x="810.12" y="255.1">35</text>
<text x="824.63" y="255.1">47</text>
<text x="839.14" y="255.1">58</text>
<text x="853.65" y="255.1">42</text>
<text x="868.16" y="255.1">35</text>
<text x="882.67" y="255.1">35</text>
<text x="897.18" y="255.1">40</text>
<text x="911.69" y="255.1">42</text>
<text x="926.20" y="255.1">32</text>
<text x="940.71" y="255.1">30</text>
<text x="955.22" y="255.1">26</text>
<text x="969.73" y="255.1">28</text>
<text x="984.24" y="255.1">46</text>
<text x="998.75" y="255.1">9</text>
<text x="215.22" y="269.3">4</text>
<text x="229.73" y="269.3">39</text>
<text x="244.24" y="269.3">56</text>
<text x="258.75" y="269.3">42</text>
<text x="273.25" y="269.3">41</text>
<text x="287.76" y="269.3">41</text>
<text x="302.27" y="269.3">45</text>
<text x="316.78" y="269.3">51</text>
<text x="331.29" y="269.3">44</text>
<text x="345.80" y="269.3">38</text>
<text x="476.39" y="269.3">23</text>
<text x="490.90" y="269.3">15</text>
<text x="548.94" y="269.3">15</text>
<text x="563.45" y="269.3">17</text>
<text x="577.96" y="269.3">17</text>
<text x="592.47" y="269.3">30</text>
<text x="606.98" y="269.3">22</text>
<text x="621.49" y="269.3">31</text>
<text x="636.00" y="269.3">38</text>
<text x="650.51" y="269.3">27</text>
<text x="665.02" y="269.3">50</text>
<text x="679.53" y="269.3">37</text>
<text x="694.04" y="269.3">37</text>
<text x="708.55" y="269.3">24</text>
<text x="723.06" y="269.3">25</text>
<text x="737.57" y="269.3">12</text>
<text x="752.08" y="269.3">6</text>
<text x="766.59" y="269.3">17</text>
<text x="781.10" y="269.3">37</text>
<text x="795.61" y="269.3">22</text>
<text x="810.12" y="269.3">16</text>
<text x="824.63" y="269.3">21</text>
<text x="839.14" y="269.3">46</text>
<text x="853.65" y="269.3">40</text>
<text x="868.16" y="269.3">34</text>
<text x="882.67" y="269.3">37</text>
<text x="897.18" y="269.3">39</text>
<text x="911.69" y="269.3">31</text>
<text x="926.20" y="269.3">19</text>
<text x="940.71" y="269.3">17</text>
<text x="955.22" y="269.3">49</text>
<text x="969.73" y="269.3">67</text>
<text x="984.24" y="269.3">50</text>
<text x="229.73" y="283.6">5</text>
<text x="244.24" y="283.6">25</text>
<text x="258.75" y="283.6">36</text>
<text x="273.25" y="283.6">51</text>
<text x="287.76" y="283.6">57</text>
<text x="302.27" y="283.6">52</text>
<text x="316.78" y="283.6">49</text>
<text x="331.29" y="283.6">42</text>
<text x="389.33" y="283.6">75</text>
<text x="519.92" y="283.6">42</text>
<text x="548.94" y="283.6">17</text>
<text x="563.45" y="283.6">27</text>
<text x="577.96" y="283.6">26</text>
<text x="592.47" y="283.6">9</text>
<text x="606.98" y="283.6">10</text>
<text x="621.49" y="283.6">6</text>
<text x="636.00" y="283.6">10</text>
<text x="650.51" y="283.6">9</text>
<text x="665.02" y="283.6">28</text>
<text x="679.53" y="283.6">17</text>
<text x="694.04" y="283.6">1</text>
<text x="708.55" y="283.6">17</text>
<text x="723.06" y="283.6">12</text>
<text x="737.57" y="283.6">12</text>
<text x="752.08" y="283.6">3</text>
<text x="766.59" y="283.6">23</text>
<text x="781.10" y="283.6">18</text>
<text x="795.61" y="283.6">21</text>
<text x="810.12" y="283.6">38</text>
<text x="824.63" y="283.6">33</text>
<text x="839.14" y="283.6">28</text>
<text x="853.65" y="283.6">29</text>
<text x="868.16" y="283.6">30</text>
<text x="882.67" y="283.6">39</text>
<text x="897.18" y="283.6">39</text>
<text x="911.69" y="283.6">38</text>
<text x="926.20" y="283.6">40</text>
<text x="940.71" y="283.6">43</text>
<text x="955.22" y="283.6">73</text>
<text x="969.73" y="283.6">74</text>
<text x="55.61" y="297.8">60</text>
<text x="229.73" y="297.8">6</text>
<text x="244.24" y="297.8">32</text>
<text x="258.75" y="297.8">41</text>
<text x="273.25" y="297.8">42</text>
<text x="287.76" y="297.8">63</text>
<text x="302.27" y="297.8">45</text>
<text x="331.29" y="297.8">47</text>
<text x="345.80" y="297.8">53</text>
<text x="519.92" y="297.8">1</text>
<text x="534.43" y="297.8">2</text>
<text x="548.94" y="297.8">17</text>
<text x="563.45" y="297.8">21</text>
<text x="577.96" y="297.8">17</text>
<text x="592.47" y="297.8">8</text>
<text x="606.98" y="297.8">2</text>
<text x="621.49" y="297.8">4</text>
<text x="636.00" y="297.8">5</text>
<text x="650.51" y="297.8">1</text>
<text x="665.02" y="297.8">2</text>
<text x="679.53" y="297.8">3</text>
<text x="694.04" y="297.8">1</text>
<text x="708.55" y="297.8">1</text>
<text x="723.06" y="297.8">4</text>
<text x="737.57" y="297.8">13</text>
<text x="752.08" y="297.8">7</text>
<text x="766.59" y="297.8">8</text>
<text x="781.10" y="297.8">7</text>
<text x="795.61" y="297.8">14</text>
<text x="810.12" y="297.8">16</text>
<text x="824.63" y="297.8">22</text>
<text x="839.14" y="297.8">19</text>
<text x="853.65" y="297.8">21</text>
<text x="868.16" y="297.8">32</text>
<text x="882.67" y="297.8">39</text>
<text x="897.18" y="297.8">50</text>
<text x="911.69" y="297.8">46</text>
<text x="926.20" y="297.8">48</text>
<text x="940.71" y="297.8">77</text>
<text x="955.22" y="297.8">65</text>
<text x="984.24" y="297.8">83</text>
<text x="113.65" y="312.0">22</text>
<text x="244.24" y="312.0">19</text>
<text x="258.75" y="312.0">51</text>
<text x="273.25" y="312.0">40</text>
<text x="287.76" y="312.0">46</text>
<text x="316.78" y="312.0">50</text>
<text x="331.29" y="312.0">42</text>
<text x="345.80" y="312.0">59</text>
<text x="360.31" y="312.0">62</text>
<text x="519.92" y="312.0">0</text>
<text x="534.43" y="312.0">3</text>
<text x="577.96" y="312.0">14</text>
<text x="592.47" y="312.0">33</text>
<text x="636.00" y="312.0">2</text>
<text x="665.02" y="312.0">0</text>
<text x="679.53" y="312.0">4</text>
<text x="694.04" y="312.0">21</text>
<text x="708.55" y="312.0">2</text>
<text x="723.06" y="312.0">3</text>
<text x="737.57" y="312.0">7</text>
<text x="766.59" y="312.0">3</text>
<text x="781.10" y="312.0">11</text>
<text x="795.61" y="312.0">12</text>
<text x="810.12" y="312.0">7</text>
<text x="824.63" y="312.0">8</text>
<text x="839.14" y="312.0">4</text>
<text x="853.65" y="312.0">14</text>
<text x="868.16" y="312.0">24</text>
<text x="882.67" y="312.0">41</text>
<text x="897.18" y="312.0">52</text>
<text x="911.69" y="312.0">58</text>
<text x="926.20" y="312.0">55</text>
<text x="940.71" y="312.0">67</text>
<text x="1013.25" y="312.0">70</text>
<text x="113.65" y="326.2">10</text>
<text x="244.24" y="326.2">38</text>
<text x="273.25" y="326.2">40</text>
<text x="287.76" y="326.2">40</text>
<text x="302.27" y="326.2">45</text>
<text x="316.78" y="326.2">56</text>
<text x="331.29" y="326.2">51</text>
<text x="345.80" y="326.2">35</text>
<text x="360.31" y="326.2">65</text>
<text x="374.82" y="326.2">64</text>
<text x="389.33" y="326.2">59</text>
<text x="505.41" y="326.2">43</text>
<text x="519.92" y="326.2">15</text>
<text x="534.43" y="326.2">9</text>
<text x="548.94" y="326.2">14</text>
<text x="563.45" y="326.2">12</text>
<text x="577.96" y="326.2">18</text>
<text x="592.47" y="326.2">17</text>
<text x="606.98" y="326.2">9</text>
<text x="621.49" y="326.2">8</text>
<text x="679.53" y="326.2">21</text>
<text x="694.04" y="326.2">29</text>
<text x="708.55" y="326.2">13</text>
<text x="723.06" y="326.2">1</text>
<text x="781.10" y="326.2">4</text>
<text x="795.61" y="326.2">8</text>
<text x="810.12" y="326.2">11</text>
<text x="839.14" y="326.2">1</text>
<text x="853.65" y="326.2">12</text>
<text x="868.16" y="326.2">22</text>
<text x="882.67" y="326.2">45</text>
<text x="897.18" y="326.2">73</text>
<text x="911.69" y="326.2">41</text>
<text x="926.20" y="326.2">51</text>
<text x="1056.78" y="326.2">65</text>
<text x="302.27" y="340.4">32</text>
<text x="316.78" y="340.4">48</text>
<text x="331.29" y="340.4">72</text>
<text x="345.80" y="340.4">31</text>
<text x="360.31" y="340.4">49</text>
<text x="374.82" y="340.4">39</text>
<text x="389.33" y="340.4">45</text>
<text x="403.84" y="340.4">44</text>
<text x="519.92" y="340.4">43</text>
<text x="534.43" y="340.4">36</text>
<text x="548.94" y="340.4">31</text>
<text x="563.45" y="340.4">11</text>
<text x="577.96" y="340.4">25</text>
<text x="592.47" y="340.4">24</text>
<text x="606.98" y="340.4">24</text>
<text x="621.49" y="340.4">29</text>
<text x="636.00" y="340.4">36</text>
<text x="650.51" y="340.4">16</text>
<text x="665.02" y="340.4">19</text>
<text x="679.53" y="340.4">22</text>
<text x="694.04" y="340.4">12</text>
<text x="708.55" y="340.4">5</text>
<text x="781.10" y="340.4">2</text>
<text x="795.61" y="340.4">13</text>
<text x="810.12" y="340.4">29</text>
<text x="839.14" y="340.4">7</text>
<text x="853.65" y="340.4">26</text>
<text x="868.16" y="340.4">26</text>
<text x="882.67" y="340.4">35</text>
<text x="926.20" y="340.4">56</text>
<text x="940.71" y="340.4">60</text>
<text x="984.24" y="340.4">59</text>
<text x="331.29" y="354.7">19</text>
<text x="345.80" y="354.7">50</text>
<text x="360.31" y="354.7">19</text>
<text x="374.82" y="354.7">21</text>
<text x="389.33" y="354.7">17</text>
<text x="403.84" y="354.7">27</text>
<text x="418.35" y="354.7">56</text>
<text x="534.43" y="354.7">33</text>
<text x="548.94" y="354.7">57</text>
<text x="563.45" y="354.7">44</text>
<text x="577.96" y="354.7">30</text>
<text x="592.47" y="354.7">33</text>
<text x="606.98" y="354.7">31</text>
<text x="621.49" y="354.7">29</text>
<text x="636.00" y="354.7">34</text>
<text x="650.51" y="354.7">33</text>
<text x="665.02" y="354.7">13</text>
<text x="679.53" y="354.7">9</text>
<text x="694.04" y="354.7">44</text>
<text x="708.55" y="354.7">34</text>
<text x="781.10" y="354.7">9</text>
<text x="795.61" y="354.7">46</text>
<text x="810.12" y="354.7">56</text>
<text x="839.14" y="354.7">14</text>
<text x="853.65" y="354.7">44</text>
<text x="868.16" y="354.7">40</text>
<text x="882.67" y="354.7">44</text>
<text x="911.69" y="354.7">22</text>
<text x="926.20" y="354.7">62</text>
<text x="940.71" y="354.7">67</text>
<text x="955.22" y="354.7">66</text>
<text x="969.73" y="354.7">50</text>
<text x="1013.25" y="354.7">71</text>
<text x="1027.76" y="354.7">89</text>
<text x="1056.78" y="354.7">69</text>
<text x="1071.29" y="354.7">46</text>
<text x="113.65" y="368.9">78</text>
<text x="345.80" y="368.9">38</text>
<text x="360.31" y="368.9">21</text>
<text x="389.33" y="368.9">53</text>
<text x="403.84" y="368.9">34</text>
<text x="418.35" y="368.9">57</text>
<text x="548.94" y="368.9">62</text>
<text x="563.45" y="368.9">20</text>
<text x="592.47" y="368.9">21</text>
<text x="606.98" y="368.9">26</text>
<text x="621.49" y="368.9">34</text>
<text x="636.00" y="368.9">40</text>
<text x="650.51" y="368.9">43</text>
<text x="665.02" y="368.9">23</text>
<text x="679.53" y="368.9">46</text>
<text x="694.04" y="368.9">68</text>
<text x="708.55" y="368.9">49</text>
<text x="781.10" y="368.9">68</text>
<text x="853.65" y="368.9">40</text>
<text x="868.16" y="368.9">35</text>
<text x="882.67" y="368.9">59</text>
<text x="897.18" y="368.9">50</text>
<text x="911.69" y="368.9">79</text>
<text x="926.20" y="368.9">28</text>
<text x="940.71" y="368.9">60</text>
<text x="1071.29" y="368.9">79</text>
<text x="331.29" y="383.1">11</text>
<text x="345.80" y="383.1">29</text>
<text x="360.31" y="383.1">38</text>
<text x="374.82" y="383.1">34</text>
<text x="389.33" y="383.1">45</text>
<text x="403.84" y="383.1">59</text>
<text x="418.35" y="383.1">75</text>
<text x="432.86" y="383.1">71</text>
<text x="447.37" y="383.1">82</text>
<text x="461.88" y="383.1">66</text>
<text x="476.39" y="383.1">91</text>
<text x="592.47" y="383.1">25</text>
<text x="606.98" y="383.1">20</text>
<text x="621.49" y="383.1">19</text>
<text x="636.00" y="383.1">38</text>
<text x="650.51" y="383.1">57</text>
<text x="665.02" y="383.1">35</text>
<text x="679.53" y="383.1">60</text>
<text x="694.04" y="383.1">88</text>
<text x="737.57" y="383.1">59</text>
<text x="868.16" y="383.1">45</text>
<text x="882.67" y="383.1">69</text>
<text x="897.18" y="383.1">56</text>
<text x="911.69" y="383.1">47</text>
<text x="926.20" y="383.1">55</text>
<text x="940.71" y="383.1">20</text>
<text x="955.22" y="383.1">46</text>
<text x="969.73" y="383.1">46</text>
<text x="984.24" y="383.1">50</text>
<text x="998.75" y="383.1">53</text>
<text x="1013.25" y="383.1">43</text>
<text x="1085.80" y="383.1">83</text>
<text x="70.12" y="397.3">51</text>
<text x="113.65" y="397.3">95</text>
<text x="171.69" y="397.3">62</text>
<text x="331.29" y="397.3">0</text>
<text x="345.80" y="397.3">19</text>
<text x="360.31" y="397.3">42</text>
<text x="374.82" y="397.3">32</text>
<text x="389.33" y="397.3">34</text>
<text x="403.84" y="397.3">44</text>
<text x="418.35" y="397.3">49</text>
<text x="432.86" y="397.3">47</text>
<text x="447.37" y="397.3">57</text>
<text x="461.88" y="397.3">73</text>
<text x="476.39" y="397.3">71</text>
<text x="534.43" y="397.3">28</text>
<text x="606.98" y="397.3">22</text>
<text x="621.49" y="397.3">17</text>
<text x="636.00" y="397.3">18</text>
<text x="650.51" y="397.3">13</text>
<text x="665.02" y="397.3">64</text>
<text x="679.53" y="397.3">75</text>
<text x="781.10" y="397.3">69</text>
<text x="882.67" y="397.3">57</text>
<text x="897.18" y="397.3">58</text>
<text x="911.69" y="397.3">70</text>
<text x="926.20" y="397.3">80</text>
<text x="940.71" y="397.3">63</text>
<text x="955.22" y="397.3">68</text>
<text x="984.24" y="397.3">31</text>
<text x="998.75" y="397.3">40</text>
<text x="1027.76" y="397.3">33</text>
<text x="1042.27" y="397.3">36</text>
<text x="1085.80" y="397.3">65</text>
<text x="55.61" y="411.6">47</text>
<text x="70.12" y="411.6">43</text>
<text x="84.63" y="411.6">78</text>
<text x="99.14" y="411.6">90</text>
<text x="142.67" y="411.6">54</text>
<text x="345.80" y="411.6">0</text>
<text x="360.31" y="411.6">10</text>
<text x="374.82" y="411.6">26</text>
<text x="389.33" y="411.6">29</text>
<text x="403.84" y="411.6">33</text>
<text x="418.35" y="411.6">31</text>
<text x="432.86" y="411.6">32</text>
<text x="447.37" y="411.6">38</text>
<text x="461.88" y="411.6">56</text>
<text x="606.98" y="411.6">12</text>
<text x="621.49" y="411.6">5</text>
<text x="636.00" y="411.6">10</text>
<text x="650.51" y="411.6">24</text>
<text x="665.02" y="411.6">44</text>
<text x="679.53" y="411.6">61</text>
<text x="694.04" y="411.6">80</text>
<text x="708.55" y="411.6">43</text>
<text x="723.06" y="411.6">20</text>
<text x="737.57" y="411.6">32</text>
<text x="853.65" y="411.6">48</text>
<text x="926.20" y="411.6">47</text>
<text x="955.22" y="411.6">20</text>
<text x="969.73" y="411.6">44</text>
<text x="984.24" y="411.6">63</text>
<text x="1013.25" y="411.6">59</text>
<text x="1042.27" y="411.6">38</text>
<text x="1056.78" y="411.6">29</text>
<text x="1085.80" y="411.6">39</text>
<text x="55.61" y="425.8">33</text>
<text x="70.12" y="425.8">52</text>
<text x="84.63" y="425.8">38</text>
<text x="99.14" y="425.8">78</text>
<text x="113.65" y="425.8">56</text>
<text x="128.16" y="425.8">61</text>
<text x="142.67" y="425.8">26</text>
<text x="157.18" y="425.8">43</text>
<text x="345.80" y="425.8">0</text>
<text x="360.31" y="425.8">0</text>
<text x="374.82" y="425.8">22</text>
<text x="389.33" y="425.8">20</text>
<text x="403.84" y="425.8">18</text>
<text x="418.35" y="425.8">25</text>
<text x="432.86" y="425.8">33</text>
<text x="447.37" y="425.8">23</text>
<text x="461.88" y="425.8">80</text>
<text x="548.94" y="425.8">12</text>
<text x="606.98" y="425.8">1</text>
<text x="621.49" y="425.8">2</text>
<text x="636.00" y="425.8">6</text>
<text x="650.51" y="425.8">21</text>
<text x="665.02" y="425.8">34</text>
<text x="679.53" y="425.8">59</text>
<text x="694.04" y="425.8">53</text>
<text x="708.55" y="425.8">28</text>
<text x="723.06" y="425.8">28</text>
<text x="737.57" y="425.8">27</text>
<text x="752.08" y="425.8">22</text>
<text x="926.20" y="425.8">8</text>
<text x="940.71" y="425.8">6</text>
<text x="955.22" y="425.8">8</text>
<text x="969.73" y="425.8">16</text>
<text x="984.24" y="425.8">16</text>
<text x="998.75" y="425.8">63</text>
<text x="1056.78" y="425.8">42</text>
<text x="1085.80" y="425.8">24</text>
<text x="55.61" y="440.0">31</text>
<text x="113.65" y="440.0">78</text>
<text x="142.67" y="440.0">45</text>
<text x="171.69" y="440.0">37</text>
<text x="186.20" y="440.0">35</text>
<text x="360.31" y="440.0">1</text>
<text x="374.82" y="440.0">6</text>
<text x="389.33" y="440.0">9</text>
<text x="403.84" y="440.0">3</text>
<text x="418.35" y="440.0">14</text>
<text x="432.86" y="440.0">11</text>
<text x="447.37" y="440.0">18</text>
<text x="490.90" y="440.0">54</text>
<text x="606.98" y="440.0">1</text>
<text x="621.49" y="440.0">3</text>
<text x="636.00" y="440.0">5</text>
<text x="650.51" y="440.0">14</text>
<text x="665.02" y="440.0">23</text>
<text x="679.53" y="440.0">59</text>
<text x="694.04" y="440.0">41</text>
<text x="708.55" y="440.0">27</text>
<text x="737.57" y="440.0">16</text>
<text x="897.18" y="440.0">10</text>
<text x="911.69" y="440.0">6</text>
<text x="955.22" y="440.0">10</text>
<text x="969.73" y="440.0">5</text>
<text x="984.24" y="440.0">14</text>
<text x="998.75" y="440.0">31</text>
<text x="1013.25" y="440.0">34</text>
<text x="1042.27" y="440.0">24</text>
<text x="1056.78" y="440.0">25</text>
<text x="55.61" y="454.2">45</text>
<text x="157.18" y="454.2">31</text>
<text x="258.75" y="454.2">59</text>
<text x="360.31" y="454.2">3</text>
<text x="374.82" y="454.2">2</text>
<text x="389.33" y="454.2">4</text>
<text x="403.84" y="454.2">6</text>
<text x="418.35" y="454.2">8</text>
<text x="432.86" y="454.2">10</text>
<text x="621.49" y="454.2">2</text>
<text x="636.00" y="454.2">6</text>
<text x="650.51" y="454.2">8</text>
<text x="665.02" y="454.2">26</text>
<text x="708.55" y="454.2">19</text>
<text x="897.18" y="454.2">14</text>
<text x="911.69" y="454.2">12</text>
<text x="926.20" y="454.2">19</text>
<text x="940.71" y="454.2">9</text>
<text x="955.22" y="454.2">11</text>
<text x="969.73" y="454.2">10</text>
<text x="984.24" y="454.2">11</text>
<text x="998.75" y="454.2">15</text>
<text x="1013.25" y="454.2">19</text>
<text x="1056.78" y="454.2">45</text>
<text x="345.80" y="468.4">27</text>
<text x="360.31" y="468.4">5</text>
<text x="374.82" y="468.4">4</text>
<text x="389.33" y="468.4">3</text>
<text x="403.84" y="468.4">9</text>
<text x="418.35" y="468.4">11</text>
<text x="621.49" y="468.4">7</text>
<text x="636.00" y="468.4">9</text>
<text x="650.51" y="468.4">12</text>
<text x="665.02" y="468.4">15</text>
<text x="911.69" y="468.4">17</text>
<text x="926.20" y="468.4">19</text>
<text x="940.71" y="468.4">17</text>
<text x="955.22" y="468.4">15</text>
<text x="969.73" y="468.4">15</text>
<text x="984.24" y="468.4">20</text>
<text x="998.75" y="468.4">22</text>
<text x="1013.25" y="468.4">29</text>
<text x="1071.29" y="468.4">25</text>
<text x="360.31" y="482.7">18</text>
<text x="374.82" y="482.7">2</text>
<text x="389.33" y="482.7">3</text>
<text x="403.84" y="482.7">4</text>
<text x="795.61" y="482.7">21</text>
<text x="969.73" y="482.7">25</text>
<text x="984.24" y="482.7">25</text>
<text x="998.75" y="482.7">15</text>
<text x="1013.25" y="482.7">49</text>
<text x="1071.29" y="482.7">23</text>
<text x="1085.80" y="482.7">30</text>
<text x="55.61" y="496.9">30</text>
<text x="360.31" y="496.9">9</text>
<text x="374.82" y="496.9">5</text>
<text x="389.33" y="496.9">3</text>
<text x="548.94" y="496.9">10</text>
<text x="998.75" y="496.9">10</text>
<text x="1056.78" y="496.9">28</text>
<text x="1071.29" y="496.9">21</text>
<text x="1085.80" y="496.9">18</text>
<text x="360.31" y="511.1">22</text>
<text x="374.82" y="511.1">3</text>
<text x="679.53" y="511.1">4</text>
<text x="723.06" y="511.1">21</text>
<text x="781.10" y="511.1">18</text>
<text x="1056.78" y="511.1">10</text>
<text x="1071.29" y="511.1">11</text>
<text x="353.06" y="525.3">11</text>
<text x="382.08" y="525.3">2</text>
<text x="411.10" y="525.3">2</text>
<text x="1020.51" y="525.3">15</text>
<text x="1049.53" y="525.3">31</text>
<text x="382.08" y="553.8">3</text>
<text x="411.10" y="553.8">1</text>
<text x="440.12" y="553.8">0</text>
<text x="382.08" y="568.0">1</text>
<text x="672.27" y="568.0">0</text>
<text x="701.29" y="568.0">0</text>
<text x="759.33" y="568.0">0</text>
<text x="788.35" y="568.0">0</text>
<text x="846.39" y="568.0">0</text>
<text x="904.43" y="568.0">0</text>
<text x="991.49" y="568.0">1</text>
<text x="1020.51" y="568.0">0</text>
<text x="193.45" y="582.2">0</text>
<text x="541.69" y="582.2">1</text>
<text x="599.73" y="582.2">0</text>
<text x="715.80" y="582.2">0</text>
<text x="483.65" y="596.4">0</text>
<text x="889.92" y="596.4">0</text>
<text x="1064.04" y="596.4">0</text>
<text x="1146.59" y="141.3">8</text>
<text x="1146.59" y="155.6">2</text>
<text x="1146.59" y="169.8">9</text>
<text x="1146.59" y="184.0">18</text>
<text x="1146.59" y="198.2">29</text>
<text x="1146.59" y="212.4">31</text>
<text x="1146.59" y="226.7">35</text>
<text x="1146.59" y="240.9">36</text>
<text x="1146.59" y="255.1">34</text>
<text x="1146.59" y="269.3">33</text>
<text x="1146.59" y="283.6">28</text>
<text x="1146.59" y="297.8">19</text>
<text x="1146.59" y="312.0">17</text>
<text x="1146.59" y="326.2">19</text>
<text x="1146.59" y="340.4">27</text>
<text x="1146.59" y="354.7">32</text>
<text x="1146.59" y="368.9">42</text>
<text x="1146.59" y="383.1">47</text>
<text x="1146.59" y="397.3">42</text>
<text x="1146.59" y="411.6">30</text>
<text x="1146.59" y="425.8">20</text>
<text x="1146.59" y="440.0">12</text>
<text x="1146.59" y="454.2">10</text>
<text x="1146.59" y="468.4">13</text>
<text x="1146.59" y="482.7">13</text>
<text x="1146.59" y="496.9">10</text>
<text x="1146.59" y="511.1">13</text>
<text x="1146.59" y="525.3">8</text>
<text x="1146.59" y="553.8">2</text>
<text x="1146.59" y="568.0">0</text>
<text x="1146.59" y="582.2">0</text>
<text x="1146.59" y="596.4">0</text>
</g>
<g font-size="11" font-weight="bold" text-anchor="end" fill="#000">
<text x="28.5" y="120.0">90 ° N</text>
<text x="28.5" y="205.3">60 ° N</text>
<text x="28.5" y="290.7">30 ° N</text>
<text x="29.5" y="376.0">0 °</text>
<text x="28.5" y="461.3">30 ° S</text>
<text x="28.5" y="546.7">60 ° S</text>
<text x="28.5" y="632.0">90 ° S</text>
</g>
<g font-size="11" font-weight="bold" text-anchor="middle" fill="#000">
<text x="45.6" y="653">180 ° W</text>
<text x="118.8" y="653">150 ° W</text>
<text x="192.0" y="653">120 ° W</text>
<text x="265.2" y="653">90 ° W</text>
<text x="338.4" y="653">60 ° W</text>
<text x="411.6" y="653">30 ° W</text>
<text x="484.8" y="653">0 °</text>
<text x="558.0" y="653">30 ° E</text>
<text x="631.2" y="653">60 ° E</text>
<text x="704.4" y="653">90 ° E</text>
<text x="777.6" y="653">120 ° E</text>
<text x="850.8" y="653">150 ° E</text>
<text x="924.0" y="653">180 ° E</text>
</g>
</svg>
<div class="t" style="left:0px;top:0px;font-size:1px;"></div>
<div class="t" style="left:447px;top:13px;font-size:18px;font-weight:bold;">Cumulus</div>
<div class="t" style="left:382px;top:39px;font-size:14px;font-weight:bold;letter-spacing:0.52px;">Frequency of Occurrence (%)</div>
<div class="t" style="left:44px;top:88px;font-size:13px;">July (1971 - 1996) Day</div>
<div class="t" style="left:829px;top:88px;font-size:13px;">Land Areas Only</div>
<div class="t" style="left:958px;top:91px;font-size:10.2px;transform:scaleX(0.93);transform-origin:0 0;">ZONAL</div>
<div class="t" style="left:953.5px;top:103.5px;font-size:10.2px;transform:scaleX(0.96);transform-origin:0 0;">AVERAGE</div>
<div class="t" style="left:395px;top:677px;font-size:10.8px;">GLOBAL AVERAGE (LAND)</div>
<div class="t" style="left:541px;top:677px;font-size:10.8px;">25.1 %</div>
<div class="t" style="left:262px;top:708px;font-size:13.2px;">(File name = lmcf07low.txt, MGRP = 9072, TYPE = 14, PCODE = 2, SN = 7)</div>
</body></html>
